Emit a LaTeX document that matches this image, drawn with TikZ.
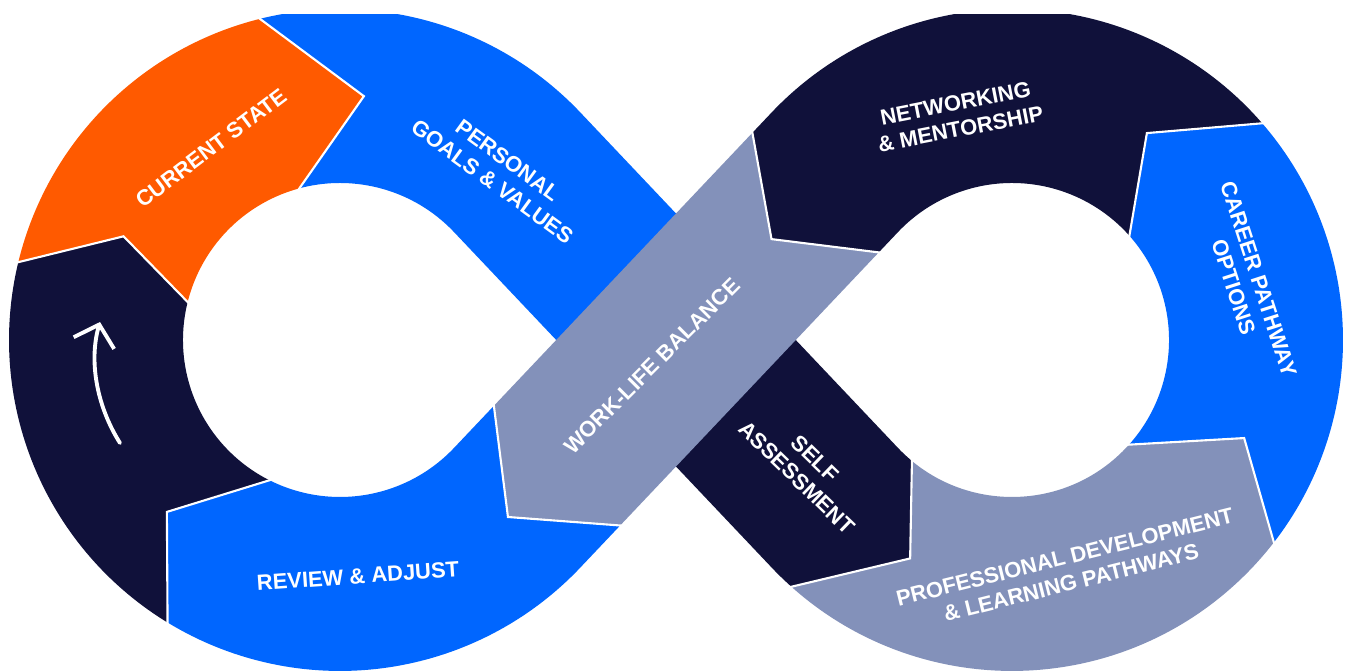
\documentclass[tikz,border=0pt]{standalone}
\usepackage{fontspec}
\setmainfont{Liberation Sans}
\usepackage{xcolor}
\usetikzlibrary{calc,arrows.meta}
\definecolor{loopnavy}{RGB}{16,17,58}
\definecolor{loopblue}{RGB}{0,102,255}
\definecolor{looporange}{RGB}{255,90,0}
\definecolor{loopgray}{RGB}{131,145,186}

\begin{document}
\begin{tikzpicture}[x=0.02cm,y=-0.02cm,
		band/.style={line width=3.48cm,line cap=butt,line join=round},
		cut/.style={white,line width=1.2pt,shorten <=-2pt,shorten >=-2pt},
		looptext/.style={text=white,font=\bfseries\fontsize{12.5}{15}\selectfont,align=center,inner sep=0pt}]
		\useasboundingbox (0,0) rectangle (1349,670);
		\fill[white] (0,0) rectangle (1349,670);
		
		% loop centres and tangent points
		\coordinate (c1) at (340,340);
		\coordinate (c2) at (1012,340);
		\coordinate (x0) at (676,340);
		\coordinate (t1u) at (517.2,172.3);
		\coordinate (t1l) at (517.2,507.7);
		\coordinate (t2u) at (834.8,172.3);
		\coordinate (t2l) at (834.8,507.7);
		
		% segment borders (o outer, v tip, i inner)
		\coordinate (b1o) at ($(c1)+(193.6:331)$);
		\coordinate (b1v) at ($(c1)+(205.6:240)$);
		\coordinate (b1i) at ($(c1)+(194:157)$);
		\coordinate (b2o) at ($(c1)+(256:331)$);
		\coordinate (b2v) at ($(c1)+(275.6:245)$);
		\coordinate (b2i) at ($(c1)+(255:157)$);
		\coordinate (b4o) at ($(c2)+(131.8:331)$);
		\coordinate (b4v) at ($(c2)+(115:241)$);
		\coordinate (b4i) at ($(c2)+(129.6:157)$);
		\coordinate (b5o) at ($(c2)+(37.7:331)$);
		\coordinate (b5v) at ($(c2)+(22.9:252)$);
		\coordinate (b5i) at ($(c2)+(41.8:157)$);
		\coordinate (b6o) at ($(c2)+(-40.9:331)$);
		\coordinate (b6v) at ($(c2)+(-56.9:247)$);
		\coordinate (b6i) at ($(c2)+(-41.6:157)$);
		\coordinate (b7o) at (752.4,132.8);
		\coordinate (b7v) at (771.5,239.1);
		\coordinate (b7i) at (878.8,252.4);
		\coordinate (b8o) at (620.3,525.5);
		\coordinate (b8v) at ($(c1)+(46.5:244)$);
		\coordinate (b8i) at (493.9,405.9);
		\coordinate (b9o) at ($(c1)+(121.4:331)$);
		\coordinate (b9v) at ($(c1)+(135.2:244)$);
		\coordinate (b9i) at ($(c1)+(116.7:157)$);
		\foreach \b in {1,2,4,5,6,7,8,9}{
			\coordinate (b\b oo) at ($(b\b v)!2!(b\b o)$);
			\coordinate (b\b ii) at ($(b\b v)!2!(b\b i)$);
		}
		
		\begin{scope}
			\clip (0,14) rectangle (1349,670);
			
			% left loop
			\begin{scope}
				\clip (b9v) -- (b9oo) -- (-300,800) -- (-300,280) -- (b1oo) -- (b1v) -- (b1ii) -- (c1) -- (b9ii) -- cycle;
				\draw[band,loopnavy] ($(c1)+(105:244)$) arc[start angle=105,end angle=220,radius=244];
			\end{scope}
			\begin{scope}
				\clip (b1v) -- (b1oo) -- (-300,280) -- (-300,-300) -- (b2oo) -- (b2v) -- (b2ii) -- (c1) -- (b1ii) -- cycle;
				\draw[band,looporange] ($(c1)+(180:244)$) arc[start angle=180,end angle=290,radius=244];
			\end{scope}
			\begin{scope}
				\clip (b2v) -- (b2oo) -- (1000,-300) -- (1000,900) -- (c1) -- (b2ii) -- cycle;
				\draw[band,loopblue] ($(c1)+(240:244)$) arc[start angle=240,end angle=316.57,radius=244] -- (x0);
			\end{scope}
			
			% right loop
			\begin{scope}
				\clip (b4v) -- (b4oo) -- (400,700) -- (400,0) -- (913.7,0) -- (b4ii) -- cycle;
				\draw[band,loopnavy] (x0) -- (t2l) arc[start angle=136.57,end angle=105,radius=244];
			\end{scope}
			\begin{scope}
				\clip (b4v) -- (b4ii) -- (c2) -- (b5ii) -- (b5v) -- (b5oo) -- (1500,800) -- (500,800) -- (b4oo) -- cycle;
				\draw[band,loopgray] ($(x0)!0.7!(t2l)$) -- (t2l) arc[start angle=136.57,end angle=10,radius=244];
			\end{scope}
			\begin{scope}
				\clip (b5v) -- (b5ii) -- (c2) -- (b6ii) -- (b6v) -- (b6oo) -- (1600,-200) -- (1600,900) -- (b5oo) -- cycle;
				\draw[band,loopblue] ($(c2)+(45:244)$) arc[start angle=45,end angle=-65,radius=244];
			\end{scope}
			\begin{scope}
				\clip (b6v) -- (b6ii) -- (c2) -- (b7ii) -- (b7v) -- (b7oo) -- (733,-300) -- (1600,-300) -- (b6oo) -- cycle;
				\draw[band,loopnavy] ($(c2)+(-30:244)$) arc[start angle=-30,end angle=-136.57,radius=244] -- ($(t2u)!0.52!(x0)$);
			\end{scope}
			
			% back to the left loop
			\begin{scope}
				\clip (b8v) -- (b8ii) -- (c1) -- (b9ii) -- (b9v) -- (b9oo) -- (700,800) -- (b8oo) -- cycle;
				\draw[band,loopblue] ($(x0)!0.6!(t1l)$) -- (t1l) arc[start angle=43.43,end angle=145,radius=244];
			\end{scope}
			\begin{scope}
				\clip (b7v) -- (b7oo) -- (400,0) -- (b8ii) -- (b8v) -- (b8oo) -- (1000,420) -- (b7ii) -- cycle;
				\draw[band,loopgray] ($(c2)+(-120:244)$) arc[start angle=-120,end angle=-136.57,radius=244] -- (x0) -- (t1l) arc[start angle=43.43,end angle=60,radius=244];
			\end{scope}
			
			% white borders
			\foreach \b in {1,2,4,5,6,7,8,9}
			\draw[cut] (b\b o) -- (b\b v) -- (b\b i);
		\end{scope}
		
		% arrow
		\coordinate (arrowtail) at (120,443);
		\coordinate (arrowtip) at (100,322);
		\draw[white,line width=2.2pt,line cap=round,-{Straight Barb[length=11pt,width=24pt]}] (arrowtail) .. controls (96,405) and (89,360) .. (arrowtip);
		
		% labels
		\node[looptext,rotate=37] (current) at (211,148) {CURRENT STATE};
		\node[looptext,rotate=-36] (goals) at (500,171) {PERSONAL\\GOALS \& VALUES};
		\node[looptext,rotate=11] (network) at (958,116) {NETWORKING\\\& MENTORSHIP};
		\node[looptext,rotate=-72] (career) at (1246,283) {CAREER PATHWAY\\OPTIONS};
		\node[looptext,rotate=45] (balance) at (652,366) {WORK-LIFE BALANCE};
		\node[looptext,rotate=-44] (self) at (806,468) {SELF\\ASSESSMENT};
		\node[looptext,rotate=14] (develop) at (1068,570) {PROFESSIONAL DEVELOPMENT\\\& LEARNING PATHWAYS};
		\node[looptext,rotate=4] (review) at (358,576) {REVIEW \& ADJUST};
	\end{tikzpicture}
\end{document}
